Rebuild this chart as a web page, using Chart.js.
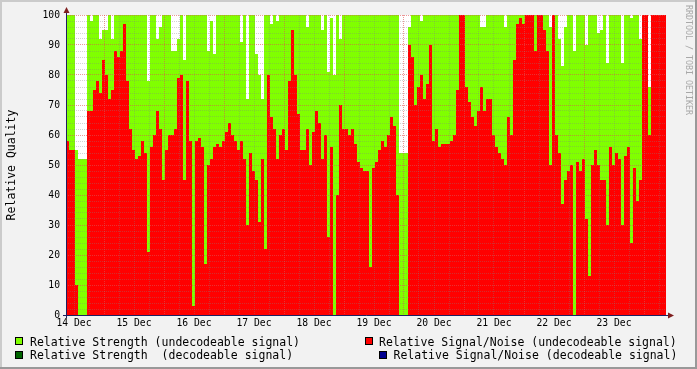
<!DOCTYPE html>
<html>
<head>
<meta charset="utf-8">
<script src="https://cdn.jsdelivr.net/npm/chart.js@4"></script>
<style>
html,body{margin:0;padding:0;background:#f2f2f2;overflow:hidden;}
canvas{display:block;}
</style>
</head>
<body>
<canvas id="c" width="697" height="369"></canvas>
<script>
// ---- data ----
const dayLabels = ['14 Dec','15 Dec','16 Dec','17 Dec','18 Dec','19 Dec','20 Dec','21 Dec','22 Dec','23 Dec'];
const yTickLabels = [0,10,20,30,40,50,60,70,80,90,100];
const firstNoonHour = 3.2;   // hours from left edge to 14 Dec 12:00
const gridStepHours = 6;
const spanHours = 240;
const sampleHours = 1.2;

const snrUndecodeable = [
  58,55,55,10,0,0,0,68,68,75,
  78,74,85,80,72,75,88,86,88,97,
  78,62,55,52,53,58,54,21,56,60,
  68,62,45,55,60,60,62,79,80,45,
  78,58,3,58,59,56,17,50,52,56,
  57,56,58,61,64,60,58,55,58,52,
  30,54,48,45,31,52,22,80,66,62,
  52,60,62,55,78,95,80,67,55,55,
  62,50,61,68,64,52,60,26,56,0,
  40,70,62,62,60,62,57,51,49,48,
  48,16,49,51,55,58,56,60,66,63,
  40,0,0,0,90,86,70,76,80,72,
  77,90,58,62,56,57,57,57,58,60,
  75,100,100,76,71,66,63,68,76,68,
  72,72,60,56,54,52,50,66,60,85,
  97,99,97,100,100,100,88,100,100,95,
  88,50,100,60,54,37,45,48,50,0,
  51,48,52,32,13,50,55,50,45,45,
  30,56,50,54,52,30,53,56,24,49,
  38,45,100,100,60,100,100,100,100,100
];
const strengthUndecodeable = [
  100,100,100,55,52,52,52,100,98,100,
  100,92,95,95,100,92,100,100,100,100,
  100,100,100,100,100,100,100,78,100,100,
  92,96,100,100,100,88,88,92,100,85,
  100,100,100,100,100,100,100,88,98,87,
  100,100,100,100,100,100,100,100,91,100,
  72,100,100,87,80,72,100,100,97,100,
  98,100,100,100,100,100,100,100,100,100,
  96,100,100,100,100,95,100,81,99,80,
  100,92,100,100,100,100,100,100,100,100,
  100,100,100,100,100,100,100,100,100,100,
  100,54,54,54,96,100,100,100,98,100,
  100,100,100,100,100,100,100,100,100,100,
  100,100,100,100,100,100,100,100,96,96,
  100,100,100,100,100,100,96,100,100,100,
  100,100,100,100,100,100,100,100,100,100,
  100,96,100,100,92,83,96,100,100,88,
  100,100,100,90,100,100,100,94,95,100,
  84,100,100,100,100,84,100,100,99,100,
  100,92,100,80,76,98,100,100,100,100
];
const snrDecodeable = [];
const strengthDecodeable = [];

// ---- styling ----
const FONT = "'DejaVu Sans Mono', 'Liberation Mono', monospace";
const GRID = 'rgba(128,128,128,0.35)';
const MGRID = 'rgba(224,80,80,0.6)';

function toPoints(arr) {
  const pts = arr.map((v, i) => ({x: i * sampleHours, y: v}));
  if (arr.length) pts.push({x: arr.length * sampleHours, y: arr[arr.length - 1]});
  return pts;
}
function areaSet(label, data, color) {
  return {
    label, data: toPoints(data),
    backgroundColor: color, borderColor: 'rgba(0,0,0,0)', borderWidth: 0,
    fill: 'origin', stepped: true, pointRadius: 0, pointHoverRadius: 0, tension: 0
  };
}

const legendItems = [
  {label: 'Relative Strength (undecodeable signal)', color: '#80FF00', bx: 15, by: 337, tx: 30, ty: 345.5},
  {label: 'Relative Signal/Noise (undecodeable signal)', color: '#FF0000', bx: 365, by: 337, tx: 379, ty: 345.5},
  {label: 'Relative Strength  (decodeable signal)', color: '#006400', bx: 15, by: 351, tx: 30, ty: 359},
  {label: 'Relative Signal/Noise (decodeable signal)', color: '#000090', bx: 379, by: 351, tx: 393.5, ty: 359}
];

const decorPlugin = {
  id: 'decor',
  beforeDraw(chart) {
    const ctx = chart.ctx, a = chart.chartArea, W = chart.width, H = chart.height;
    ctx.save();
    ctx.fillStyle = '#F2F2F2';
    ctx.fillRect(0, 0, W, H);
    ctx.fillStyle = '#CBCBCB';
    ctx.fillRect(0, 0, W, 2);
    ctx.fillRect(0, 0, 2, H);
    ctx.fillStyle = '#999999';
    ctx.fillRect(0, H - 2, W, 2);
    ctx.fillRect(W - 2, 0, 2, H);
    ctx.fillStyle = '#FFFFFF';
    ctx.fillRect(a.left, a.top, a.right - a.left, a.bottom - a.top);
    ctx.restore();
  },
  afterDraw(chart) {
    const ctx = chart.ctx, a = chart.chartArea;
    ctx.save();
    // axes
    ctx.strokeStyle = '#1F1F60';
    ctx.lineWidth = 1;
    ctx.beginPath();
    ctx.moveTo(a.left - 3, a.bottom + 0.5);
    ctx.lineTo(a.right + 4, a.bottom + 0.5);
    ctx.moveTo(a.left + 0.5, a.bottom + 3);
    ctx.lineTo(a.left + 0.5, a.top - 4);
    ctx.stroke();
    // arrows
    ctx.fillStyle = '#7F1F1F';
    ctx.beginPath();
    ctx.moveTo(a.right + 2, a.bottom - 2.5);
    ctx.lineTo(a.right + 8, a.bottom + 0.5);
    ctx.lineTo(a.right + 2, a.bottom + 3.5);
    ctx.closePath();
    ctx.fill();
    ctx.beginPath();
    ctx.moveTo(a.left - 2.5, a.top - 2);
    ctx.lineTo(a.left + 0.5, a.top - 8);
    ctx.lineTo(a.left + 3.5, a.top - 2);
    ctx.closePath();
    ctx.fill();
    // y title
    ctx.fillStyle = '#000';
    ctx.font = '11.5px ' + FONT;
    ctx.textAlign = 'center';
    ctx.textBaseline = 'middle';
    ctx.translate(12, (a.top + a.bottom) / 2);
    ctx.rotate(-Math.PI / 2);
    ctx.fillText('Relative Quality', 0, 0);
    ctx.restore();

    // watermark
    ctx.save();
    ctx.fillStyle = '#A8A8A8';
    ctx.font = '8.3px ' + FONT;
    ctx.textAlign = 'left';
    ctx.textBaseline = 'middle';
    ctx.translate(688.5, 5);
    ctx.rotate(Math.PI / 2);
    ctx.fillText('RRDTOOL / TOBI OETIKER', 0, 0);
    ctx.restore();

    // legend
    ctx.save();
    ctx.font = '11.5px ' + FONT;
    ctx.textAlign = 'left';
    ctx.textBaseline = 'alphabetic';
    legendItems.forEach(it => {
      ctx.fillStyle = it.color;
      ctx.fillRect(it.bx, it.by, 8, 8);
      ctx.strokeStyle = '#000';
      ctx.lineWidth = 1;
      ctx.strokeRect(it.bx + 0.5, it.by + 0.5, 7, 7);
      ctx.fillStyle = '#000';
      ctx.fillText(it.label, it.tx, it.ty);
    });
    ctx.restore();
  }
};

const chart = new Chart(document.getElementById('c'), {
  type: 'line',
  data: {
    datasets: [
      areaSet(legendItems[1].label, snrUndecodeable, '#FF0000'),
      areaSet(legendItems[3].label, snrDecodeable, '#000090'),
      areaSet(legendItems[2].label, strengthDecodeable, '#006400'),
      areaSet(legendItems[0].label, strengthUndecodeable, '#80FF00')
    ]
  },
  options: {
    responsive: false,
    animation: false,
    devicePixelRatio: 1,
    layout: {padding: {top: 15, right: 31, left: 0, bottom: 0}},
    plugins: {legend: {display: false}, tooltip: {enabled: false}},
    events: [],
    scales: {
      x: {
        type: 'linear', min: 0, max: spanHours, offset: false,
        afterBuildTicks(s) {
          const t = [];
          for (let h = firstNoonHour; h <= spanHours; h += gridStepHours) t.push({value: h});
          s.ticks = t;
        },
        afterFit(s) { s.height = 54; },
        ticks: {
          autoSkip: false, maxRotation: 0, minRotation: 0, padding: 3,
          color: '#000', font: {family: FONT, size: 9.7},
          callback(v, idx) { return idx % 4 === 0 ? (dayLabels[idx / 4] || '') : ''; }
        },
        grid: {
          z: 1, drawTicks: false, lineWidth: 1,
          color(ctx) { return (ctx.index % 4 === 2) ? MGRID : GRID; }
        },
        border: {display: false, dash: [1, 1]}
      },
      y: {
        type: 'linear', min: 0, max: 100,
        afterBuildTicks(s) {
          const t = [];
          for (let v = 0; v <= 100; v += 2) t.push({value: v});
          s.ticks = t;
        },
        afterFit(s) { s.width = 66; },
        ticks: {
          autoSkip: false, padding: 6, color: '#000', font: {family: FONT, size: 9.7},
          callback(v) { return yTickLabels.includes(v) ? String(v) : ''; }
        },
        grid: {
          z: 1, drawTicks: false, lineWidth: 1,
          color(ctx) { return (ctx.tick && ctx.tick.value % 10 === 0) ? MGRID : GRID; }
        },
        border: {display: false, dash: [1, 1]}
      }
    }
  },
  plugins: [decorPlugin]
});
</script>
</body>
</html>
